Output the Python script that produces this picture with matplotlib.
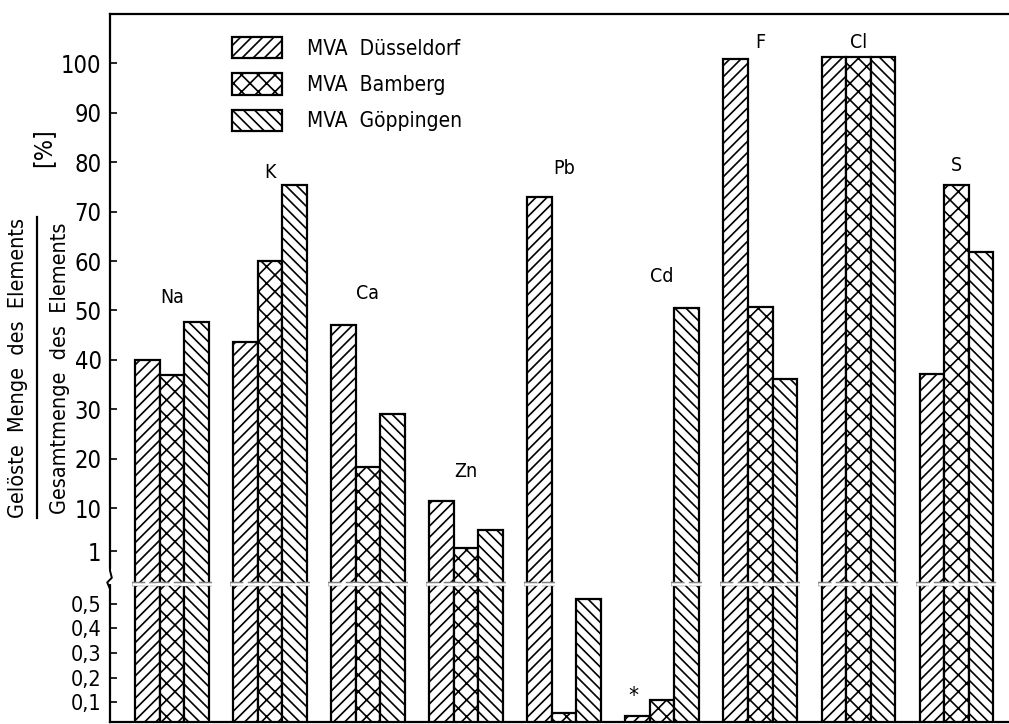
import numpy as np
import matplotlib.pyplot as plt
from matplotlib.patches import Patch
from matplotlib.lines import Line2D

plt.rcParams['font.family'] = ['DejaVu Sans']
plt.rcParams['font.stretch'] = 'condensed'
plt.rcParams['hatch.linewidth'] = 1.2

elements = ['Na', 'K', 'Ca', 'Zn', 'Pb', 'Cd', 'F', 'Cl', 'S']
duesseldorf = [40, 43.7, 47, 11.4, 73, 0.045, 100.8, 101.2, 37.1]
bamberg = [37, 60, 18.3, 1.6, 0.056, 0.11, 50.7, 101.2, 75.4]
goeppingen = [47.7, 75.3, 29, 5.4, 0.52, 50.5, 36.1, 101.2, 61.8]
label_y = [52.7, 77.9, 53.5, 17.4, 78.8, 56.9, 104.3, 104.3, 79.4]

series = ['MVA  Düsseldorf', 'MVA  Bamberg', 'MVA  Göppingen']
hatches = ['///', 'xx', '\\\\\\']

ticks = [0.1, 0.2, 0.3, 0.4, 0.5, 1, 10, 20, 30, 40, 50, 60, 70, 80, 90, 100]
tick_labels = ['0,1', '0,2', '0,3', '0,4', '0,5', '1', '10', '20', '30', '40',
               '50', '60', '70', '80', '90', '100']

# broken axis: lower part linear 0..0.58, then 1, 10, 100
knots_v = [0, 0.58, 1, 10, 100, 110]
knots_h = [0, 143, 176, 219, 664, 713.4]
brk = 0.58


def fwd(v):
    return np.interp(v, knots_v, knots_h)


def inv(h):
    return np.interp(h, knots_h, knots_v)


fig = plt.figure(figsize=(10.09, 7.24), dpi=100)
ax = fig.add_axes([110 / 1009, 2 / 724, 920 / 1009, 708 / 724])
ax.set_yscale('function', functions=(fwd, inv))
ax.set_ylim(0.02, 110)
ax.set_xlim(-0.63, 8.75)

x = np.arange(len(elements))
w = 0.25
for i, (vals, hatch) in enumerate(zip([duesseldorf, bamberg, goeppingen], hatches)):
    xs = x + (i - 1) * w
    ax.bar(xs, vals, width=w, bottom=0, facecolor='white', edgecolor='black',
           linewidth=1.6, hatch=hatch, zorder=2)
    for xi, v in zip(xs, vals):
        if v > brk:
            ax.plot([xi - w / 2 - 0.035, xi + w / 2 + 0.035], [brk, brk],
                    color='0.5', lw=3.2, ls=(0, (3, 1)), zorder=3,
                    solid_capstyle='butt')
            ax.plot([xi - w / 2 - 0.035, xi + w / 2 + 0.035], [brk, brk],
                    color='white', lw=1.8, zorder=4, solid_capstyle='butt')

for xi, name, ly in zip(x, elements, label_y):
    ax.text(xi, ly, name, ha='center', va='center', fontsize=14)
ax.text(x[5] - w - 0.04, 0.125, '*', ha='center', va='center', fontsize=16)

ax.set_yticks(ticks)
ax.set_yticklabels(tick_labels)
for t, v in zip(ax.get_yticklabels(), ticks):
    t.set_fontsize(17 if v >= 1 else 15.5)
ax.tick_params(axis='y', direction='in', length=5, width=1.2, pad=6)
ax.tick_params(axis='x', bottom=False, labelbottom=False)
for s in ['left', 'top', 'bottom']:
    ax.spines[s].set_linewidth(1.6)
ax.spines['right'].set_visible(False)

# squiggle on the axis at the break
ax.plot([0, 0], [0.6, 0.75], transform=ax.get_yaxis_transform(), color='white',
        lw=3, zorder=5, clip_on=False)
ax.plot([0, 0, -0.003, 0.002, 0, 0], [0.5, 0.56, 0.6, 0.66, 0.75, 1],
        transform=ax.get_yaxis_transform(), color='black', lw=1.4, zorder=6,
        clip_on=False)

handles = [Patch(facecolor='white', edgecolor='black', hatch=h, linewidth=1.6)
           for h in hatches]
ax.legend(handles, series, loc='upper left', bbox_to_anchor=(232 / 1009, 1 - 37 / 724),
          bbox_transform=fig.transFigure, frameon=False, fontsize=15,
          handlelength=2.4, handleheight=1.2, labelspacing=0.7,
          handletextpad=1.2, borderpad=0, borderaxespad=0)

# y label as a fraction
fig.text(18 / 1009, 1 - 368 / 724, 'Gelöste  Menge  des  Elements', rotation=90,
         ha='center', va='center', fontsize=15.5)
fig.text(60 / 1009, 1 - 368 / 724, 'Gesamtmenge  des  Elements', rotation=90,
         ha='center', va='center', fontsize=15.5)
fig.add_artist(Line2D([37 / 1009, 37 / 1009], [1 - 518 / 724, 1 - 217 / 724],
                      color='black', lw=1.6))
fig.text(43 / 1009, 1 - 148 / 724, '[%]', rotation=90, ha='center', va='center',
         fontsize=18)

fig.savefig('out.png', dpi=100)
